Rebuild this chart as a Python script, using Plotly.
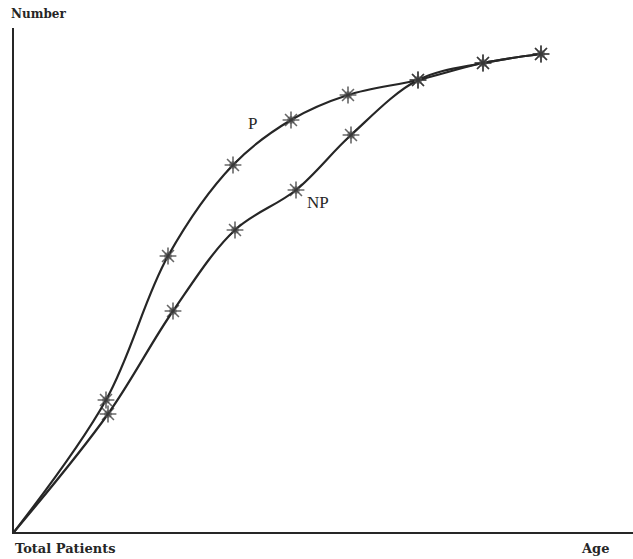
import plotly.graph_objects as go

# Values (arbitrary units, no tick scale shown)
p_x = [0, 92, 154, 219, 277, 334, 404, 469, 527]
p_y = [0, 132, 276, 367, 412, 437, 452, 469, 478]
np_x = [0, 94, 159, 221, 282, 337, 404, 469, 527]
np_y = [0, 118, 221, 302, 342, 397, 452, 469, 478]
marker_sizes = [0, 14, 14, 14, 14, 14, 14, 14, 14]

font_family = "Liberation Serif, DejaVu Serif, serif"
label_family = "DejaVu Serif, Liberation Serif, serif"
ink = "#262626"

fig = go.Figure()
for xs, ys, name in [(p_x, p_y, "P"), (np_x, np_y, "NP")]:
    fig.add_trace(go.Scatter(
        x=xs, y=ys, mode="lines", name=name,
        line=dict(color=ink, width=2.2, shape="spline", smoothing=1.0),
        hoverinfo="skip", showlegend=False,
    ))
    fig.add_trace(go.Scatter(
        x=xs, y=ys, mode="markers", showlegend=False,
        marker=dict(symbol="circle", size=[s * 0.55 for s in marker_sizes], color="#7d7d7d",
                    line=dict(width=0)),
        hoverinfo="skip",
    ))
    fig.add_trace(go.Scatter(
        x=xs, y=ys, mode="markers", showlegend=False,
        marker=dict(symbol="asterisk-open", size=marker_sizes, color=ink,
                    line=dict(color=ink, width=1.6)),
        hoverinfo="skip",
    ))

fig.add_annotation(x=238, y=409, text="P", showarrow=False,
                   font=dict(family=font_family, size=17, color=ink))
fig.add_annotation(x=304, y=330, text="NP", showarrow=False,
                   font=dict(family=font_family, size=17, color=ink))

fig.add_annotation(x=0, y=1, xref="paper", yref="paper", xshift=-5, yshift=14,
                   text="<b>Number</b>", showarrow=False, xanchor="left", yanchor="middle",
                   font=dict(family=label_family, size=12, color=ink))
fig.add_annotation(x=0, y=0, xref="paper", yref="paper", xshift=-1, yshift=-16,
                   text="<b>Total Patients</b>", showarrow=False, xanchor="left", yanchor="middle",
                   font=dict(family=label_family, size=13, color=ink))
fig.add_annotation(x=579, y=0, xref="x", yref="paper", xshift=-14, yshift=-16,
                   text="<b>Age</b>", showarrow=False, xanchor="left", yanchor="middle",
                   font=dict(family=label_family, size=13, color=ink))

fig.update_layout(
    width=633, height=559,
    margin=dict(l=14, r=0, t=28, b=27),
    paper_bgcolor="white", plot_bgcolor="white",
    xaxis=dict(range=[0, 619], showgrid=False, zeroline=False, showticklabels=False,
               ticks="", showline=True, linecolor=ink, linewidth=2, fixedrange=True),
    yaxis=dict(range=[0, 504], showgrid=False, zeroline=False, showticklabels=False,
               ticks="", showline=True, linecolor=ink, linewidth=2, fixedrange=True),
)

fig.write_html("out.html", config={"displayModeBar": False},
               post_script="document.body.style.margin='0';document.body.style.overflow='hidden';")
